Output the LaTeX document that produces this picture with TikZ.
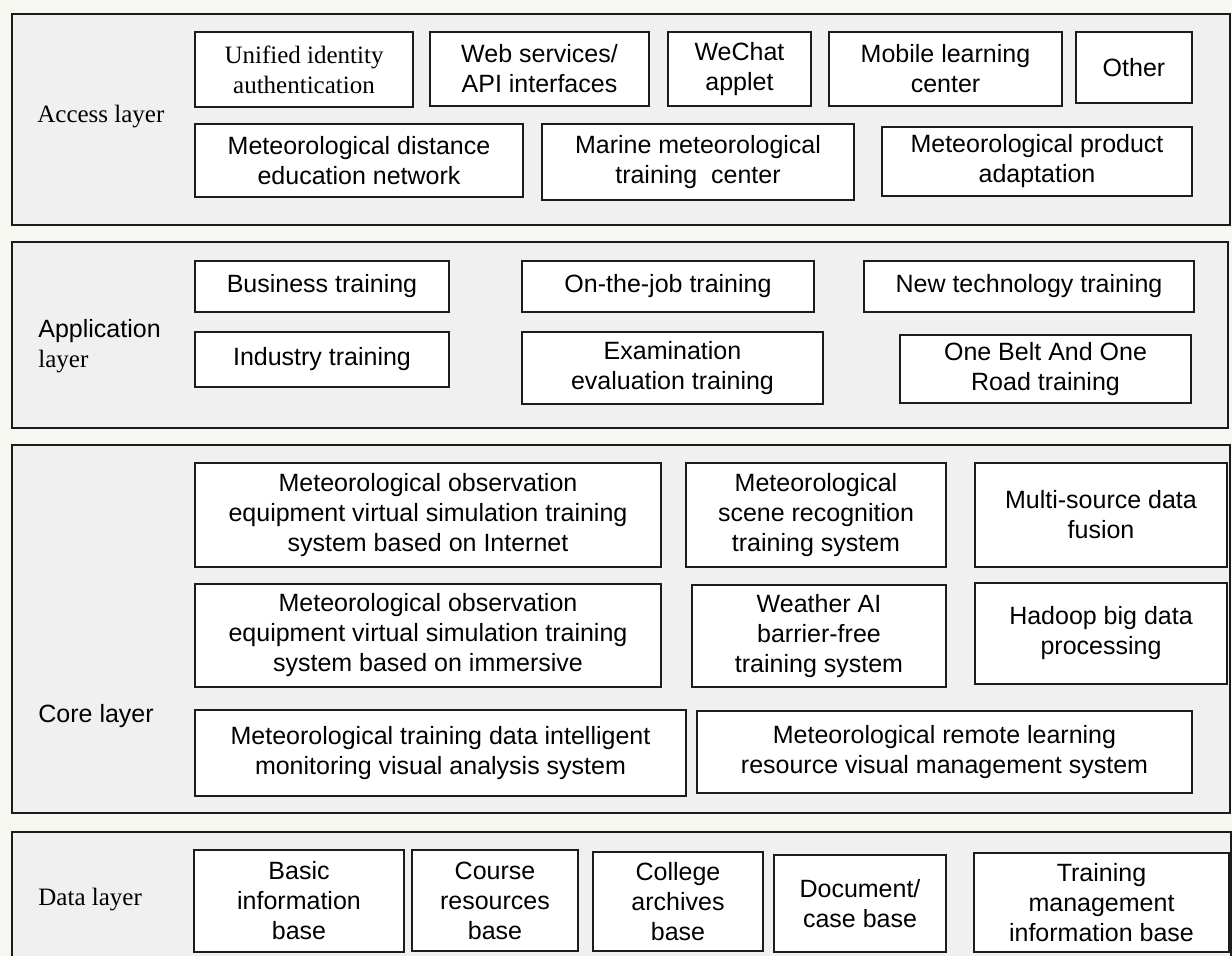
\documentclass[tikz,border=0pt]{standalone}
\usepackage{fontspec}
\setmainfont{Liberation Serif}
\setsansfont{Liberation Sans}
\usetikzlibrary{
  positioning,
  fit,
  backgrounds
}
\definecolor{pagebg}{RGB}{248,248,243}
\definecolor{layerbg}{RGB}{240,240,240}
\definecolor{edge}{RGB}{28,28,28}

\begin{document}
\begin{tikzpicture}[
    x=0.5pt, y=-0.5pt,
    font=\fontsize{12.5}{15}\selectfont,
    box/.style={
      rectangle, draw=edge, fill=white, line width=1pt,
      inner sep=0pt, text centered, align=center,
      font=\sffamily\fontsize{12.5}{15}\selectfont
    },
    serifbox/.style={box, font=\rmfamily\fontsize{12.5}{15}\selectfont},
    plane/.style={
      rectangle, draw=edge, fill=layerbg, line width=1pt,
      inner sep=0pt
    },
    tag/.style={anchor=west, align=left, inner sep=0pt},
  ]

  \clip (0,0) rectangle (1232,956);

  %% ── Access layer ─────────────────────────────────────────
  \node[serifbox, minimum width=109pt, minimum height=37.5pt] (auth) at (304,69.5) {Unified identity\\authentication};
  \node[box, minimum width=109.5pt, minimum height=37pt] (websvc)  at (539.5,69) {Web services/\\API interfaces};
  \node[box, minimum width=71.5pt, minimum height=37pt]  (wechat)  at (739.5,69) {WeChat\\applet};
  \node[box, minimum width=116.5pt, minimum height=37pt] (mobile)  at (945.5,69) {Mobile learning\\center};
  \node[box, minimum width=58pt, minimum height=35.5pt]  (other)   at (1134,67.5) {Other};
  \node[box, minimum width=164pt, minimum height=36.5pt] (distedu) at (359,160.5) {Meteorological distance\\education network};
  \node[box, minimum width=156pt, minimum height=38pt]   (marine)  at (698,162) {Marine meteorological\\training\ \ center};
  \node[box, minimum width=155pt, minimum height=34.5pt] (product) at (1037,161.5) {Meteorological product\\adaptation};
  \node[tag] (accesslbl) at (37,117) {Access layer};

  %% ── Application layer ────────────────────────────────────
  \node[box, minimum width=127pt, minimum height=25.5pt]   (business) at (322,286.5) {Business training};
  \node[box, minimum width=146pt, minimum height=25.5pt]   (onjob)    at (668,286.5) {On-the-job training};
  \node[box, minimum width=165pt, minimum height=25.5pt]   (newtech)  at (1029,286.5) {New technology training};
  \node[box, minimum width=127pt, minimum height=27.5pt]   (industry) at (322,359.5) {Industry training};
  \node[box, minimum width=150.5pt, minimum height=36pt]   (exam)     at (672.5,368) {Examination\\evaluation training};
  \node[box, minimum width=145.5pt, minimum height=34pt]   (belt)     at (1045.5,369) {One Belt And One\\Road training};
  \node[tag] (applbl) at (38,346) {\sffamily Application\\\rmfamily layer};

  %% ── Core layer ───────────────────────────────────────────
  \node[box, minimum width=233pt, minimum height=52pt]     (internet)  at (428,515) {Meteorological observation\\equipment virtual simulation training\\system based on Internet};
  \node[box, minimum width=130pt, minimum height=52pt]     (scene)     at (816,515) {Meteorological\\scene recognition\\training system};
  \node[box, minimum width=126pt, minimum height=52pt]     (fusion)    at (1101,515) {Multi-source data\\fusion};
  \node[box, minimum width=233pt, minimum height=51.5pt]   (immersive) at (428,635.5) {Meteorological observation\\equipment virtual simulation training\\system based on immersive};
  \node[box, minimum width=127pt, minimum height=51pt]     (weatherai) at (819,636) {Weather AI\\barrier-free\\training system};
  \node[box, minimum width=126pt, minimum height=50.5pt]   (hadoop)    at (1101,633.5) {Hadoop big data\\processing};
  \node[box, minimum width=245.5pt, minimum height=43pt]   (monitor)   at (440.5,753) {Meteorological training data intelligent\\monitoring visual analysis system};
  \node[box, minimum width=247.5pt, minimum height=41pt]   (remote)    at (944.5,752) {Meteorological remote learning\\resource visual management system};
  \node[tag, font=\sffamily\fontsize{12.5}{15}\selectfont] (corelbl) at (38,716) {Core layer};

  %% ── Data layer ───────────────────────────────────────────
  \node[box, minimum width=105pt, minimum height=51pt]     (basic)     at (299,901) {Basic\\information\\base};
  \node[box, minimum width=83pt, minimum height=50.5pt]    (course)    at (495,900.5) {Course\\resources\\base};
  \node[box, minimum width=85pt, minimum height=49.5pt]    (college)   at (678,901.5) {College\\archives\\base};
  \node[box, minimum width=86pt, minimum height=48.5pt]    (document)  at (860,903.5) {Document/\\case base};
  \node[box, minimum width=127.5pt, minimum height=49.5pt] (trainmgmt) at (1101.5,902.5) {Training\\management\\information base};
  \node[tag] (datalbl) at (38,900) {Data layer};

  %% ── Layer planes ─────────────────────────────────────────
  \begin{scope}[on background layer]
    \fill[pagebg] (0,0) rectangle (1232,956);
    \node[plane, fit={(12,14) (1230,225)}]  (accessplane) {};
    \node[plane, fit={(12,242) (1228,428)}] (appplane)    {};
    \node[plane, fit={(12,445) (1230,813)}] (coreplane)   {};
    \node[plane, fit={(12,832) (1231,966)}] (dataplane)   {};
  \end{scope}

\end{tikzpicture}
\end{document}
